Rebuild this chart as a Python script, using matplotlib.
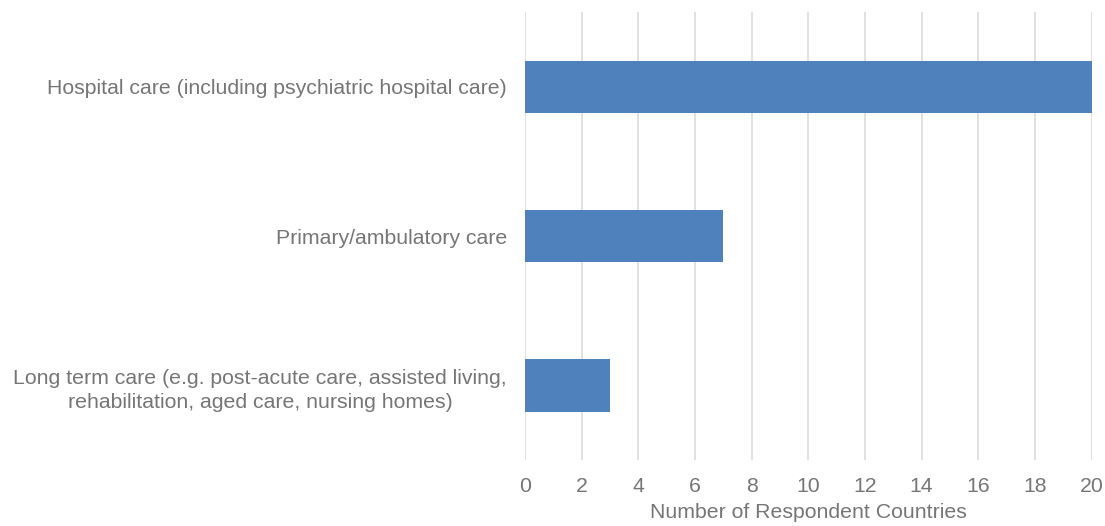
import matplotlib
matplotlib.use("Agg")
import matplotlib.pyplot as plt

plt.rcParams['font.family'] = ['Liberation Sans', 'DejaVu Sans']

categories = [
    "Long term care (e.g. post-acute care, assisted living,\nrehabilitation, aged care, nursing homes)",
    "Primary/ambulatory care",
    "Hospital care (including psychiatric hospital care)",
]
values = [3, 7, 20]
xticks = list(range(0, 21, 2))
xlabel = "Number of Respondent Countries"

text_color = "#767676"
bar_color = "#4f81bd"
grid_color = "#dedede"
fs = 15.3

fig = plt.figure(figsize=(11.05, 5.26), dpi=100)
ax = fig.add_axes([0.475, 0.125, 0.513, 0.852])

ax.barh(range(len(categories)), values, height=0.35, color=bar_color, zorder=3)
ax.set_yticks(range(len(categories)))
ax.set_yticklabels(categories, fontsize=fs, color=text_color, ha='right',
                   multialignment='center', linespacing=1.35)
ax.set_xlim(0, 20)
ax.set_ylim(-0.5, 2.5)
ax.set_xticks(xticks)
ax.tick_params(axis='x', labelsize=fs, colors=text_color, length=0, pad=12)
ax.tick_params(axis='y', length=0, pad=13)
ax.grid(axis='x', color=grid_color, linewidth=1.3, zorder=0)
for s in ax.spines.values():
    s.set_visible(False)
ax.set_xlabel(xlabel, fontsize=fs, color=text_color, labelpad=5)

fig.savefig("out.png", dpi=100)
